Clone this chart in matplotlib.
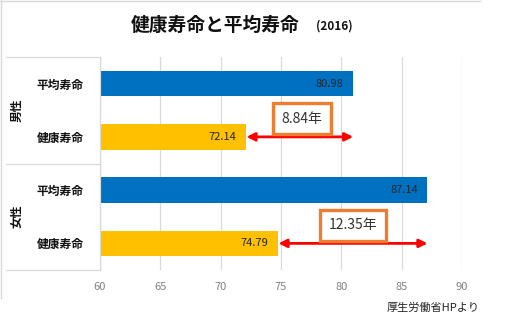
import matplotlib
matplotlib.use("Agg")
import matplotlib.pyplot as plt
from matplotlib.lines import Line2D

plt.rcParams['font.family'] = ['Noto Sans CJK JP', 'DejaVu Sans']

# Data
groups = ["男性", "女性"]
measures = ["平均寿命", "健康寿命"]
avg_life = [80.98, 87.14]       # 平均寿命
healthy_life = [72.14, 74.79]   # 健康寿命
x_ticks = [60, 65, 70, 75, 80, 85, 90]

BLUE = "#0070C0"
YELLOW = "#FFC000"
ORANGE = "#ED7D31"
RED = "#FF0000"
GRID = "#D9D9D9"

W, H = 507, 324
fig = plt.figure(figsize=(W / 100, H / 100), dpi=100)
fig.patch.set_facecolor("white")

def fx(px):
    return px / W

def fy(py):
    return 1 - py / H

ax = fig.add_axes([fx(100), fy(270), fx(462) - fx(100), fy(57) - fy(270)])

# bars: one row per (group, measure), top to bottom
rows_val, rows_col, rows_lab = [], [], []
for g in range(len(groups)):
    rows_val += [avg_life[g], healthy_life[g]]
    rows_col += [BLUE, YELLOW]
    rows_lab += measures
ypos = list(range(len(rows_val)))

base = x_ticks[0]
ax.barh(ypos, [v - base for v in rows_val], left=base, height=0.48,
        color=rows_col, zorder=2)

for y, v in zip(ypos, rows_val):
    ax.annotate(f"{v:.2f}", xy=(v, y), xytext=(-7, 0), textcoords="offset points",
                ha="right", va="center", fontsize=8, color="#262626", zorder=3)

ax.set_xlim(60, 90)
ax.set_ylim(len(rows_val) - 0.5, -0.5)
ax.set_xticks(x_ticks)
ax.set_xticklabels([str(t) for t in x_ticks])
ax.tick_params(axis="x", length=0, pad=9, labelsize=8, labelcolor="#808080")
ax.set_yticks(ypos)
ax.set_yticklabels(rows_lab, fontsize=8.5, fontweight="bold", color="#111111")
ax.tick_params(axis="y", length=0, pad=12)
ax.grid(axis="x", color=GRID, lw=0.9, zorder=0)
for s in ["top", "right", "bottom"]:
    ax.spines[s].set_visible(False)
ax.spines["left"].set_color(GRID)
ax.spines["left"].set_linewidth(0.9)

# difference arrows and boxed labels
for g in range(len(groups)):
    yh = 2 * g + 1
    ax.annotate("", xy=(healthy_life[g], yh), xytext=(avg_life[g], yh),
                arrowprops=dict(arrowstyle="<|-|>", color=RED, lw=2,
                                mutation_scale=12, shrinkA=0, shrinkB=0),
                zorder=4)
    diff = avg_life[g] - healthy_life[g]
    xc = healthy_life[g] + diff * (0.52 if g == 0 else 0.5)
    ax.text(xc, yh - 0.34, f"{diff:.2f}年", ha="center", va="center",
            fontsize=10, color="#333333", zorder=5,
            bbox=dict(boxstyle="square,pad=0.62", fc="white", ec=ORANGE, lw=2.4))

# category table lines and group labels
for py in (57, 163.5, 270):
    fig.add_artist(Line2D([fx(6), fx(100)], [fy(py), fy(py)], color=GRID, lw=0.9))
for g, name in enumerate(groups):
    yc = 57 + (163.5 - 57) * (g + 0.5)
    fig.text(fx(17), fy(yc), name, rotation=90, ha="center", va="center",
             fontsize=8.5, fontweight="bold", color="#111111")

# outer frame edges
fig.add_artist(Line2D([0, fx(480)], [fy(0.5), fy(0.5)], color=GRID, lw=1))
fig.add_artist(Line2D([fx(0.7), fx(0.7)], [fy(0), fy(298)], color=GRID, lw=1))

# titles and source
fig.text(fx(215), fy(25), "健康寿命と平均寿命", ha="center", va="center",
         fontsize=13.5, fontweight="bold", color="#111111")
fig.text(fx(334), fy(26), "(2016)", ha="center", va="center",
         fontsize=8.5, fontweight="bold", color="#111111")
fig.text(fx(480), fy(308), "厚生労働省HPより", ha="right", va="center",
         fontsize=8, color="#222222")

fig.savefig("out.png", dpi=100, facecolor="white")
